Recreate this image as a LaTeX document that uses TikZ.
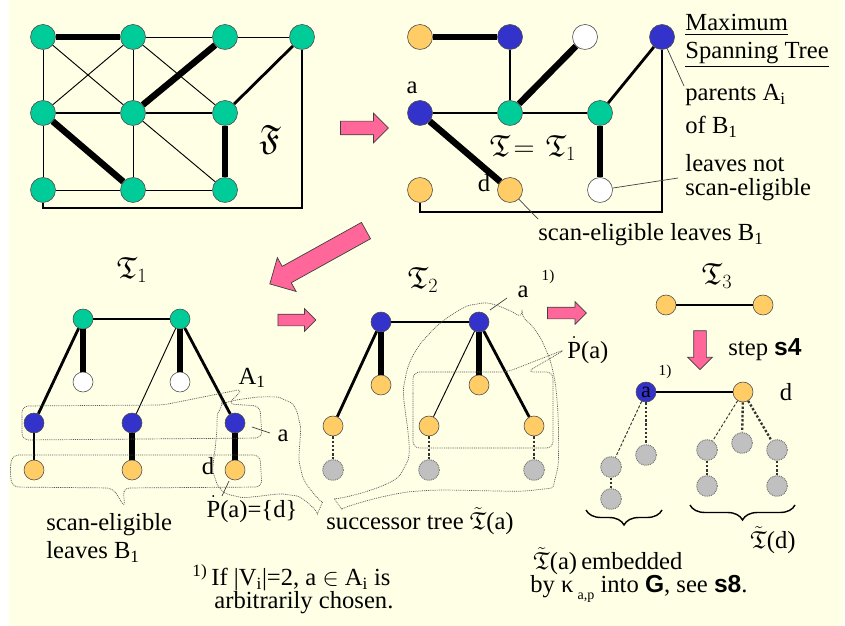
\documentclass[tikz,border=0pt]{standalone}
\usepackage{fontspec}
\setmainfont{Liberation Serif}
\setsansfont{Liberation Sans}
\usepackage{amsmath}
\usepackage{amssymb}
\usepackage{xcolor}
\usepackage{tikz}
\usetikzlibrary{arrows.meta,calc,positioning,shapes.arrows,decorations.pathreplacing}

\definecolor{bgyel}{RGB}{255,255,230}
\definecolor{vgreen}{RGB}{0,204,153}
\definecolor{vblue}{RGB}{51,51,204}
\definecolor{vorange}{RGB}{255,204,102}
\definecolor{vgray}{RGB}{192,192,192}
\definecolor{apink}{RGB}{255,102,153}

\begin{document}
\begin{tikzpicture}[
    x=0.03cm,
    y=-0.03cm,
    font=\fontsize{21}{24}\selectfont,
    every node/.style={inner sep=1pt},
    vtx/.style={circle,draw=black!70,line width=0.5pt,inner sep=0pt,minimum size=0.75cm},
    smallv/.style={minimum size=0.6cm},
    gfill/.style={fill=vgreen},
    bfill/.style={fill=vblue},
    ofill/.style={fill=vorange},
    wfill/.style={fill=white},
    ghost/.style={circle,draw=black!55,line width=0.8pt,dash pattern=on 0.8pt off 0.8pt,
                  fill=vgray,inner sep=0pt,minimum size=0.62cm},
    slim/.style={draw=black,line width=0.8pt},
    med/.style={draw=black,line width=2.4pt},
    heavy/.style={draw=black,line width=5.5pt},
    dots/.style={draw=black!80,line width=2pt,dash pattern=on 2pt off 1.6pt},
    dashes/.style={draw=black!80,line width=0.8pt,dash pattern=on 2.5pt off 1.5pt},
    outline/.style={draw=black!65,line width=0.6pt,dash pattern=on 0.8pt off 0.8pt,
                    rounded corners=0.2cm},
    callout/.style={draw=black!75,line width=0.6pt},
    parr/.style={single arrow,draw=black!75,fill=apink,line width=0.6pt,inner sep=0pt},
    frak/.style={font=\fontsize{26}{26}\selectfont},
    fnote/.style={font=\fontsize{13}{13}\selectfont,inner sep=0pt},
    brace/.style={draw=black,line width=1.2pt,decorate,
                  decoration={brace,mirror,amplitude=0.45cm}}
]

\useasboundingbox (0,0) rectangle (845,626);
\fill[white] (0,0) rectangle (845,626);
\fill[bgyel] (9,0) rectangle (843,626);

% graph F
\node[vtx,gfill] (f11) at (43,37) {};
\node[vtx,gfill] (f12) at (133,37) {};
\node[vtx,gfill] (f13) at (225,37) {};
\node[vtx,gfill] (f14) at (302,37) {};
\node[vtx,gfill] (f21) at (43,113) {};
\node[vtx,gfill] (f22) at (133,113) {};
\node[vtx,gfill] (f23) at (225,113) {};
\node[vtx,gfill] (f31) at (43,190) {};
\node[vtx,gfill] (f32) at (133,190) {};
\node[vtx,gfill] (f33) at (225,190) {};
\coordinate (fc) at (302,208);

\draw[heavy] (f11) -- (f12);
\draw[slim] (f12) -- (f13);
\draw[slim] (f13) -- (f14);
\draw[slim] (f11) -- (f21);
\draw[slim] (f11) -- (f22);
\draw[slim] (f12) -- (f21);
\draw[slim] (f12) -- (f22);
\draw[slim] (f12) -- (f23);
\draw[heavy] (f13) -- (f22);
\draw[med] (f14) -- (f23);
\draw[med] (f21) -- (f22);
\draw[med] (f22) -- (f23);
\draw[slim] (f21) -- (f31);
\draw[heavy] (f21) -- (f32);
\draw[slim] (f22) -- (f32);
\draw[slim] (f22) -- (f33);
\draw[heavy] (f23) -- (f33);
\draw[slim] (f31) -- (f32);
\draw[slim] (f32) -- (f33);
\draw[med] (f31) |- (fc) -- (f14);

\node[font=\fontsize{30}{30}\selectfont] (lF) at (270,140) {$\mathfrak{F}$};

% spanning tree T
\node[vtx,ofill] (t11) at (420,37) {};
\node[vtx,bfill] (t12) at (510,37) {};
\node[vtx,wfill] (t13) at (585,37) {};
\node[vtx,bfill] (t14) at (662,37) {};
\node[vtx,bfill] (t21) at (420,113) {};
\node[vtx,gfill] (t22) at (510,113) {};
\node[vtx,gfill] (t23) at (600,113) {};
\node[vtx,ofill] (t31) at (420,190) {};
\node[vtx,ofill] (t32) at (510,190) {};
\node[vtx,wfill] (t33) at (600,190) {};
\coordinate (tc) at (662,212);

\draw[heavy] (t11) -- (t12);
\draw[med] (t12) -- (t22);
\draw[heavy] (t13) -- (t22);
\draw[med] (t14) -- (t23);
\draw[med] (t21) -- (t22);
\draw[med] (t22) -- (t23);
\draw[heavy] (t21) -- (t32);
\draw[heavy] (t23) -- (t33);
\draw[med] (t31) |- (tc) -- (t14);

\node (la) at (412,88) {a};
\node (ld) at (484,183) {d};
\node[frak] (lT) at (533,148) {$\mathfrak{T}\!=\!\;\mathfrak{T}_1$};

\node[anchor=west] (mst1) at (684,25) {\underline{Maximum}};
\node[anchor=west] (mst2) at (684,55) {\underline{Spanning Tree}};
\node[anchor=west] (par1) at (684,95) {parents A$_\text{i}$};
\node[anchor=west] (par2) at (684,127) {of B$_\text{1}$};
\node[anchor=west] (lns1) at (684,163) {leaves not};
\node[anchor=west] (lns2) at (684,190) {scan-eligible};
\node[anchor=west] (sel) at (537,235) {scan-eligible leaves B$_\text{1}$};

\coordinate (parTip) at (684,86);
\coordinate (lnsTip) at (678,178);
\coordinate (selTip) at (538,219);
\draw[callout] (t14) -- (parTip);
\draw[callout] (t33) -- (lnsTip);
\draw[callout] (t32) -- (selTip);

% pink arrows
\node[parr,minimum height=1.44cm,inner ysep=0.195cm,single arrow head extend=0.24cm] (ar1) at (361,128) {};
\node[parr,minimum height=3.3cm,inner ysep=0.27cm,single arrow head extend=0.3cm,rotate=209] (ar2) at (322,255) {};
\node[parr,minimum height=1.14cm,inner ysep=0.165cm,single arrow head extend=0.165cm] (ar3) at (294,320) {};
\node[parr,minimum height=1.17cm,inner ysep=0.165cm,single arrow head extend=0.165cm] (ar4) at (564,313) {};
\node[parr,minimum height=1.17cm,inner ysep=0.18cm,single arrow head extend=0.18cm,rotate=-90] (ar5) at (700,347) {};

% tree T1
\node[frak] (lT1) at (132,270) {$\mathfrak{T}_1$};
\node[vtx,smallv,gfill] (p1) at (83,319) {};
\node[vtx,smallv,gfill] (p2) at (180,319) {};
\node[vtx,smallv,wfill] (p3) at (83,382) {};
\node[vtx,smallv,wfill] (p4) at (180,382) {};
\node[vtx,smallv,bfill] (p5) at (34,423) {};
\node[vtx,smallv,bfill] (p6) at (132,423) {};
\node[vtx,smallv,bfill] (p7) at (235,423) {};
\node[vtx,smallv,ofill] (p8) at (34,470) {};
\node[vtx,smallv,ofill] (p9) at (132,470) {};
\node[vtx,smallv,ofill] (p10) at (235,470) {};

\draw[med] (p1) -- (p2);
\draw[heavy] (p1) -- (p3);
\draw[heavy] (p2) -- (p4);
\draw[med] (p1) -- (p5);
\draw[slim] (p2) -- (p6);
\draw[med] (p2) -- (p7);
\draw[med] (p5) -- (p8);
\draw[heavy] (p6) -- (p9);
\draw[heavy] (p7) -- (p10);

\node (lA1) at (252,378) {A$_\text{1}$};
\node (lpa) at (283,436) {a};
\node (lpd) at (208,466) {d};
\node (lPd) at (252,509) {$\dot{\text{P}}$(a)=\{d\}};
\coordinate (paS) at (252,427);
\coordinate (paE) at (270,433);
\coordinate (pdS) at (229,481);
\coordinate (pdE) at (222,496);
\draw[callout] (paS) -- (paE);
\draw[callout] (pdS) -- (pdE);

\draw[outline] (22,423) -- (22,406) -- (163,405) -- (243,389) -- (228,404) -- (260,406)
    -- (262,438) -- (22,440) -- cycle;
\draw[outline] (10,471) -- (12,455) -- (260,455) -- (262,487) -- (123,488) -- (125,508)
    -- (113,488) -- (12,487) -- cycle;
\draw[outline] plot[smooth cycle,tension=0.55] coordinates {(216,440) (222,408) (250,398)
    (285,400) (299,420) (301,470) (320,508) (290,495) (235,496) (215,478)};

\node[anchor=west] (se1) at (45,525) {scan-eligible};
\node[anchor=west] (se2) at (45,552) {leaves B$_\text{1}$};
\node[anchor=west] (fn1) at (191,578) {\textsuperscript{1)}\,If |V$_\text{i}$|=2, a $\in$ A$_\text{i}$ is};
\node[anchor=west] (fn2) at (213,603) {arbitrarily chosen.};
\node[anchor=west] (succ) at (325,521) {successor tree $\tilde{\mathfrak{T}}$(a)};

% tree T2
\node[frak] (lT2) at (423,280) {$\mathfrak{T}_2$};
\node[vtx,smallv,bfill] (q1) at (381,322) {};
\node[vtx,smallv,bfill] (q2) at (479,322) {};
\node[vtx,smallv,ofill] (q3) at (381,385) {};
\node[vtx,smallv,ofill] (q4) at (479,385) {};
\node[vtx,smallv,ofill] (q5) at (333,426) {};
\node[vtx,smallv,ofill] (q6) at (429,426) {};
\node[vtx,smallv,ofill] (q7) at (534,426) {};
\node[ghost] (q8) at (333,470) {};
\node[ghost] (q9) at (429,470) {};
\node[ghost] (q10) at (534,470) {};

\draw[med] (q1) -- (q2);
\draw[heavy] (q1) -- (q3);
\draw[heavy] (q2) -- (q4);
\draw[med] (q1) -- (q5);
\draw[slim] (q2) -- (q6);
\draw[med] (q2) -- (q7);
\draw[dots] (q5) -- (q8);
\draw[dots] (q6) -- (q9);
\draw[dots] (q7) -- (q10);

\node (lqa) at (523,292) {a};
\node[fnote] (lqn) at (548,277) {1)};
\coordinate (qaS) at (507,298);
\coordinate (qaE) at (490,310);
\draw[callout] (qaS) -- (qaE);
\node[anchor=west] (lPa) at (566,350) {$\dot{\text{P}}$(a)};

\draw[outline] plot[smooth cycle,tension=0.55] coordinates {(477,304) (522,318) (546,350)
    (557,400) (556,475) (535,490) (420,491) (338,504) (404,468) (405,380) (430,333)};
\draw[outline] (413,400) -- (413,372) -- (507,372) -- (566,349) -- (527,372) -- (553,372)
    -- (553,448) -- (413,448) -- cycle;

% tree T3 and embedding
\node[frak] (lT3) at (717,276) {$\mathfrak{T}_3$};
\node[vtx,smallv,ofill] (r1) at (666,305) {};
\node[vtx,smallv,ofill] (r2) at (763,305) {};
\draw[med] (r1) -- (r2);
\node[anchor=west] (step) at (727,350) {step \textsf{\textbf{s4}}};

\node[vtx,smallv,bfill,font=\fontsize{19}{19}\selectfont] (ra) at (646,392) {a};
\node[vtx,smallv,ofill] (rd) at (743,392) {};
\draw[med] (ra) -- (rd);
\node[fnote] (lrn) at (665,372) {1)};
\node (lrd) at (786,392) {d};

\node[ghost] (ga1) at (611,467) {};
\node[ghost] (ga2) at (611,499) {};
\node[ghost] (ga3) at (646,455) {};
\node[ghost] (gd1) at (707,450) {};
\node[ghost] (gd2) at (707,486) {};
\node[ghost] (gd3) at (742,443) {};
\node[ghost] (gd4) at (777,450) {};
\node[ghost] (gd5) at (777,486) {};

\draw[dashes] (ra) -- (ga1);
\draw[dots] (ra) -- (ga3);
\draw[dots] (ga1) -- (ga2);
\draw[dashes] (rd) -- (gd1);
\draw[dots] (rd) -- (gd3);
\draw[dots] (rd) -- (gd4);
\draw[dots] (gd1) -- (gd2);
\draw[dots] (gd4) -- (gd5);

\coordinate (bra1) at (586,510);
\coordinate (bra2) at (662,510);
\coordinate (brd1) at (690,505);
\coordinate (brd2) at (795,505);
\draw[brace] (bra1) -- (bra2);
\draw[brace] (brd1) -- (brd2);

\node (ltd) at (773,540) {$\tilde{\mathfrak{T}}$(d)};
\node[anchor=west] (emb1) at (532,561) {$\tilde{\mathfrak{T}}$(a)\,embedded};
\node[anchor=west] (emb2) at (529,589) {by κ\,\raisebox{-0.6ex}{\fontsize{12}{12}\selectfont a,p} into \textsf{\textbf{G}}, see \textsf{\textbf{s8}}.};

\end{tikzpicture}
\end{document}
